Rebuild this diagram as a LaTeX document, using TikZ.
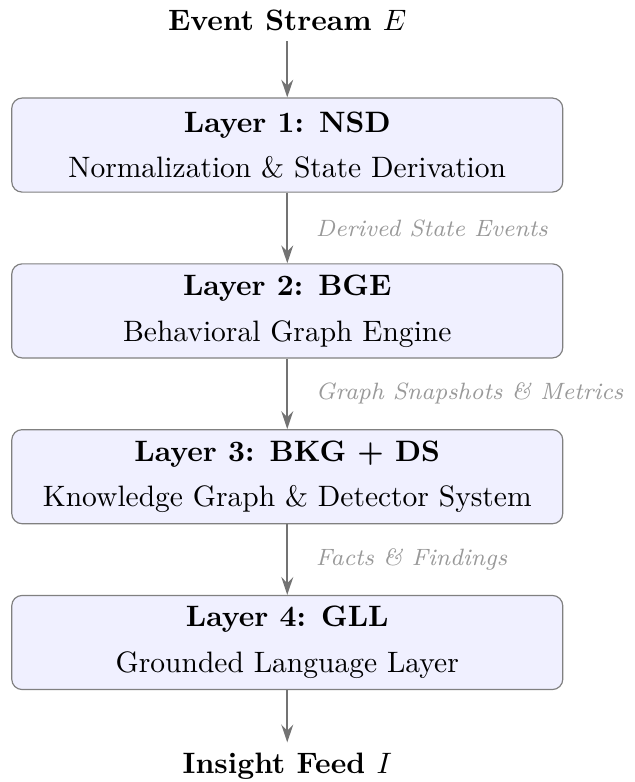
\documentclass[tikz,border=0pt]{standalone}
\usepackage{tikz}
\usetikzlibrary{positioning, arrows.meta}
\tikzstyle{layer} = [draw=gray, fill=blue!6, rounded corners=3.5pt, minimum width=6.56cm, minimum height=1.12cm, align=center]
\tikzstyle{arrow} = [thick, gray!90!black, -{Stealth[length=6pt, width=4pt, inset=2pt]}]
\tikzstyle{flow} = [font=\footnotesize\itshape, text=gray!80, right, xshift=6pt]

\begin{document}
\begin{tikzpicture}[node distance=0.84cm]
	% Frame of the page:
	\useasboundingbox (0,0) rectangle (7.56,-9.31);
	
	% Input, layers and output:
	\node [font=\bfseries] (src) at (3.42,-0.24) {Event Stream $E$};
	\node [layer] (nsd) at (3.42,-1.727) {\textbf{Layer 1: NSD}\\[3.5pt] Normalization \& State Derivation};
	\node [layer, below=of nsd] (bge) {\textbf{Layer 2: BGE}\\[3.5pt] Behavioral Graph Engine};
	\node [layer, below=of bge] (bkg) {\textbf{Layer 3: BKG + DS}\\[3.5pt] Knowledge Graph \& Detector System};
	\node [layer, below=of bkg] (gll) {\textbf{Layer 4: GLL}\\[3.5pt] Grounded Language Layer};
	\node [font=\bfseries] (out) at (3.42,-9.12) {Insight Feed $I$};
	
	% Arrows between them:
	\draw [arrow] (src) -- (nsd);
	\draw [arrow] (nsd) -- node [flow] {Derived State Events} (bge);
	\draw [arrow] (bge) -- node [flow] {Graph Snapshots \& Metrics} (bkg);
	\draw [arrow] (bkg) -- node [flow] {Facts \& Findings} (gll);
	\draw [arrow] (gll) -- (out);
\end{tikzpicture}
\end{document}
